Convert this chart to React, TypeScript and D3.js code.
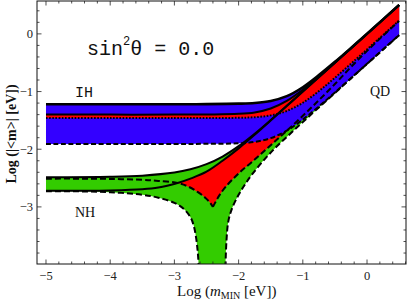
import React from 'react';
import * as d3 from 'd3';

type Pt = [number, number];

// x = Log(m_MIN [eV]), y = Log(|<m>| [eV])

// inverted hierarchy
const IH_MAX_HI: Pt[] = [[-5, -1.22], [-4, -1.22], [-3, -1.22], [-2.5, -1.218], [-2, -1.21], [-1.75, -1.198], [-1.5, -1.163], [-1.25, -1.08], [-1, -0.925], [-0.75, -0.715], [-0.5, -0.485], [-0.25, -0.244], [0, 0.002], [0.25, 0.251], [0.5, 0.5]];
const IH_MAX_LO: Pt[] = [[-5, -1.4], [-4, -1.4], [-3, -1.4], [-2.5, -1.397], [-2, -1.387], [-1.75, -1.362], [-1.5, -1.294], [-1.25, -1.162], [-1, -0.968], [-0.75, -0.739], [-0.5, -0.497], [-0.25, -0.248], [0, 0], [0.25, 0.25], [0.5, 0.5]];
const IH_CP: Pt[] = [[-5, -1.46], [-4, -1.46], [-3, -1.46], [-2.5, -1.459], [-2, -1.455], [-1.75, -1.445], [-1.5, -1.413], [-1.25, -1.338], [-1, -1.194], [-0.75, -0.993], [-0.5, -0.761], [-0.25, -0.517], [0, -0.269], [0.25, -0.02], [0.5, 0.23]];
const IH_MIN: Pt[] = [[-5, -1.91], [-4, -1.91], [-3, -1.909], [-2.5, -1.906], [-2, -1.898], [-1.75, -1.873], [-1.5, -1.808], [-1.25, -1.678], [-1, -1.487], [-0.75, -1.259], [-0.5, -1.016], [-0.25, -0.769], [0, -0.52], [0.25, -0.27], [0.5, -0.02]];

// normal hierarchy
const NH_MAX_HI: Pt[] = [[-5, -2.485], [-4, -2.477], [-3.5, -2.458], [-3, -2.405], [-2.75, -2.348], [-2.5, -2.259], [-2.25, -2.127], [-2, -1.947], [-1.75, -1.731], [-1.5, -1.494], [-1.25, -1.248], [-1, -1.0], [-0.5, -0.5], [0, 0], [0.5, 0.5]];
const NH_MAX_LO: Pt[] = [[-5, -2.72], [-4.5, -2.72], [-4, -2.715], [-3.5, -2.695], [-3.25, -2.665], [-2.95, -2.585], [-2.75, -2.51], [-2.5, -2.39], [-2.25, -2.2], [-2, -1.985], [-1.75, -1.75], [-1.5, -1.502], [-1.25, -1.252], [-1, -1.0], [-0.5, -0.5], [0, 0], [0.5, 0.5]];
const NH_CP_LEFT: Pt[] = [[-5, -2.51], [-4.5, -2.51], [-4, -2.515], [-3.5, -2.53], [-3.25, -2.55], [-2.95, -2.585], [-2.8, -2.64], [-2.64, -2.74], [-2.52, -2.84], [-2.45, -2.92], [-2.4, -3.0]];
const NH_CP_RIGHT: Pt[] = [[-2.4, -3.0], [-2.3, -2.8], [-2.2, -2.65], [-2, -2.42], [-1.75, -2.18], [-1.5, -1.93], [-1.25, -1.68], [-1, -1.42], [-0.75, -1.15], [-0.5, -0.87], [-0.25, -0.575], [0, -0.295], [0.25, -0.03], [0.5, 0.225]];
const NH_MIN_LEFT: Pt[] = [[-5, -2.73], [-4.5, -2.73], [-4, -2.745], [-3.5, -2.79], [-3.25, -2.84], [-3, -2.93], [-2.85, -3.04], [-2.75, -3.18], [-2.7, -3.32], [-2.66, -3.55], [-2.635, -3.8], [-2.62, -4.05]];
const NH_MIN_RIGHT: Pt[] = [[-2.205, -4.05], [-2.19, -3.6], [-2.16, -3.25], [-2.1, -3.02], [-2, -2.79], [-1.9, -2.61], [-1.8, -2.45], [-1.6, -2.18], [-1.4, -1.945], [-1.2, -1.735], [-1, -1.53], [-0.75, -1.275], [-0.5, -1.025], [-0.25, -0.772], [0, -0.522], [0.25, -0.272], [0.5, -0.022]];
const NH_TIP_X = -2.95;

const X_TICKS = [-5, -4, -3, -2, -1, 0];
const X_TICK_LABELS = ['\u22125', '\u22124', '\u22123', '\u22122', '\u22121', '0'];
const Y_TICKS = [-3, -2, -1, 0];
const Y_TICK_LABELS = ['\u22123', '\u22122', '\u22121', '0'];

const BLUE = '#3300ff';
const RED = '#ff0000';
const GREEN = '#33cc00';

const W = 409;
const H = 300;
const F = { left: 37, right: 406, top: 1, bottom: 264 };

export default function App() {
  const x = d3.scaleLinear().domain([-5.14, 0.607]).range([F.left, F.right]);
  const y = d3.scaleLinear().domain([-3.99, 0.57]).range([F.bottom, F.top]);

  const line = d3.line<Pt>()
    .x(d => x(d[0]))
    .y(d => y(d[1]))
    .curve(d3.curveCatmullRom.alpha(0.5));

  const seg = (p: Pt[]) => line(p) || '';
  const rev = (p: Pt[]) => p.slice().reverse();
  const from = (p: Pt[], x0: number) => p.filter(d => d[0] >= x0 - 1e-9);
  // glue several curve pieces into one closed outline
  const outline = (...parts: Pt[][]) =>
    parts.map((p, i) => (i === 0 ? seg(p) : seg(p).replace(/^M/, 'L'))).join('') + 'Z';

  const greenArea = outline(NH_MAX_HI, rev(NH_MIN_RIGHT), rev(NH_MIN_LEFT));
  const redNH = outline(from(NH_MAX_LO, NH_TIP_X), rev(NH_CP_RIGHT), rev(from(NH_CP_LEFT, NH_TIP_X)));
  const blueArea = outline(IH_MAX_HI, rev(IH_MIN));
  const redIH = outline(IH_MAX_LO, rev(IH_CP));

  const lines: { d: Pt[]; dash?: string; w: number }[] = [
    { d: NH_MIN_LEFT, dash: '6,3', w: 2 },
    { d: NH_MIN_RIGHT, dash: '6,3', w: 2 },
    { d: NH_CP_LEFT, dash: '6,3', w: 2 },
    { d: NH_CP_RIGHT, dash: '6,3', w: 2 },
    { d: NH_MAX_LO, w: 2 },
    { d: NH_MAX_HI, w: 2 },
    { d: IH_MIN, dash: '5,2.5', w: 2 },
    { d: IH_CP, dash: '1.6,1.6', w: 2 },
    { d: IH_MAX_LO, w: 2 },
    { d: IH_MAX_HI, w: 2.6 },
  ];

  const xMinor = d3.range(-25, 4).map(i => i / 5);
  const yMinor = d3.range(-19, 3).map(i => i / 5);
  const tickColor = '#222';
  const serif = 'Liberation Serif, Times New Roman, serif';
  const mono = 'Liberation Mono, Courier New, monospace';

  return (
    <div style={{ position: 'absolute', left: 0, top: 0 }}>
      <svg width={W} height={H} style={{ display: 'block', background: '#fff' }}>
        <defs>
          <clipPath id="plot">
            <rect x={F.left} y={F.top} width={F.right - F.left} height={F.bottom - F.top} />
          </clipPath>
        </defs>

        <g clipPath="url(#plot)">
          <path d={greenArea} fill={GREEN} />
          <path d={redNH} fill={RED} />
          <path d={blueArea} fill={BLUE} />
          <path d={redIH} fill={RED} />
          {lines.map((l, i) => (
            <path key={i} d={seg(l.d)} fill="none" stroke="#000" strokeWidth={l.w}
              strokeDasharray={l.dash} />
          ))}
        </g>

        {/* frame */}
        <rect x={F.left} y={F.top} width={F.right - F.left} height={F.bottom - F.top}
          fill="none" stroke="#111" strokeWidth={1} />

        {/* ticks on all four sides, pointing in */}
        {xMinor.map((v, i) => {
          const major = Number.isInteger(v);
          const len = major ? 4.5 : 2.5;
          const px = x(v);
          return (
            <g key={'xt' + i} stroke={tickColor} strokeWidth={0.8}>
              <line x1={px} x2={px} y1={F.bottom} y2={F.bottom - len} />
              <line x1={px} x2={px} y1={F.top} y2={F.top + len} />
            </g>
          );
        })}
        {yMinor.map((v, i) => {
          const major = Number.isInteger(v);
          const len = major ? 4.5 : 2.5;
          const py = y(v);
          return (
            <g key={'yt' + i} stroke={tickColor} strokeWidth={0.8}>
              <line x1={F.left} x2={F.left + len} y1={py} y2={py} />
              <line x1={F.right} x2={F.right - len} y1={py} y2={py} />
            </g>
          );
        })}

        {X_TICKS.map((v, i) => (
          <text key={'xl' + i} x={x(v)} y={280} textAnchor="middle" fontFamily={serif} fontSize={12.5} fill="#222">
            {X_TICK_LABELS[i]}
          </text>
        ))}
        {Y_TICKS.map((v, i) => (
          <text key={'yl' + i} x={33} y={y(v) + 4.3} textAnchor="end" fontFamily={serif} fontSize={12.5} fill="#222">
            {Y_TICK_LABELS[i]}
          </text>
        ))}

        {/* axis titles */}
        <text x={177} y={296} fontFamily={serif} fontSize={15} fill="#111">
          Log (<tspan fontStyle="italic">m</tspan>
          <tspan fontSize={10} dy={3}>MIN</tspan>
          <tspan dy={-3}> [eV])</tspan>
        </text>
        <text transform="translate(16,134) rotate(-90)" textAnchor="middle" fontFamily={serif}
          fontSize={14} fontWeight="bold" fill="#111">
          Log (|&lt;m&gt;| [eV])
        </text>

        {/* annotations */}
        <text x={87} y={55} fontFamily={mono} fontSize={20} fill="#111">
          sin<tspan fontSize={12} dy={-10}>2</tspan><tspan dy={10}>θ = 0.0</tspan>
        </text>
        <text x={75} y={97} fontFamily={mono} fontSize={15} fill="#111">IH</text>
        <text x={75} y={217} fontFamily={serif} fontSize={14} fill="#111">NH</text>
        <text x={370} y={96} fontFamily={serif} fontSize={14} fill="#111">QD</text>
      </svg>
    </div>
  );
}
